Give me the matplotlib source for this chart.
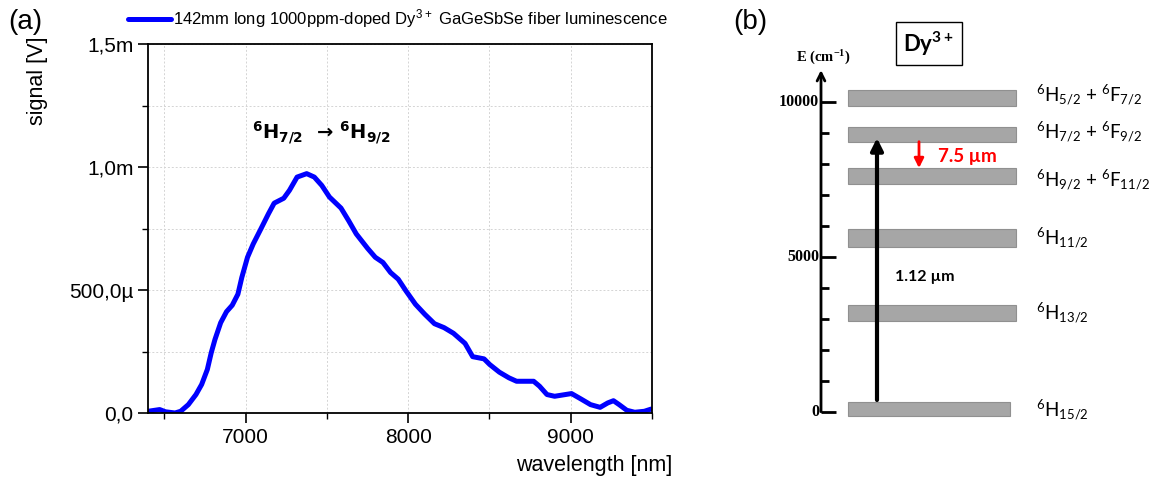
import numpy as np
import matplotlib.pyplot as plt
from matplotlib.ticker import MultipleLocator

plt.rcParams['font.family'] = ['Liberation Sans', 'DejaVu Sans']
plt.rcParams['mathtext.default'] = 'regular'

# (a) luminescence spectrum
wavelength = [6401, 6472, 6507, 6566, 6601, 6648, 6695, 6730, 6765, 6789, 6812,
              6847, 6883, 6918, 6953, 6977, 7012, 7047, 7094, 7141, 7176, 7235,
              7270, 7317, 7376, 7423, 7469, 7516, 7587, 7634, 7681, 7751, 7798,
              7845, 7892, 7939, 7986, 8045, 8103, 8162, 8221, 8279, 8350, 8397,
              8467, 8502, 8561, 8620, 8667, 8772, 8808, 8854, 8901, 9005, 9063,
              9122, 9181, 9228, 9263, 9298, 9345, 9394, 9453, 9495]
signal_mV = [0.007, 0.014, 0.005, 0.000, 0.007, 0.034, 0.075, 0.116, 0.177, 0.245, 0.299,
             0.367, 0.412, 0.438, 0.483, 0.551, 0.633, 0.687, 0.748, 0.810, 0.853, 0.873,
             0.905, 0.959, 0.973, 0.959, 0.925, 0.878, 0.833, 0.782, 0.728, 0.669, 0.633,
             0.612, 0.571, 0.544, 0.497, 0.442, 0.401, 0.363, 0.347, 0.324, 0.283, 0.229,
             0.220, 0.197, 0.166, 0.143, 0.129, 0.129, 0.109, 0.075, 0.068, 0.079, 0.057,
             0.034, 0.023, 0.041, 0.050, 0.034, 0.011, 0.003, 0.007, 0.016]
ytick_vals = [0, 0.5e-3, 1.0e-3, 1.5e-3]
ytick_labels = ['0,0', '500,0\u00b5', '1,0m', '1,5m']
xtick_vals = [7000, 8000, 9000]

# (b) Dy3+ energy levels (cm-1), lower and upper edge of each band
level_lo = [9870, 8710, 7345, 5313, 2935, -140]
level_hi = [10380, 9194, 7861, 5894, 3442, 323]
level_names = ['$^6$H$_{5/2}$ + $^6$F$_{7/2}$', '$^6$H$_{7/2}$ + $^6$F$_{9/2}$',
               '$^6$H$_{9/2}$ + $^6$F$_{11/2}$', '$^6$H$_{11/2}$',
               '$^6$H$_{13/2}$', '$^6$H$_{15/2}$']
label_e = [10216, 9032, 7474, 5603, 3184, 55]
pump_lo, pump_hi = 377, 8829
emis_hi, emis_lo = 8710, 7860

fig = plt.figure(figsize=(11.5, 4.82), dpi=100)

# ---- panel (a)
ax = fig.add_axes([148/1150, 69/482, 504/1150, 369/482])
ax.plot(wavelength, np.array(signal_mV)*1e-3, color='#0000ff', lw=3.6,
        solid_joinstyle='round', solid_capstyle='round',
        label='142mm long 1000ppm-doped Dy$^{3+}$ GaGeSbSe fiber luminescence')
ax.set_xlim(6400, 9500)
ax.set_ylim(0, 1.5e-3)
ax.set_xticks(xtick_vals)
ax.xaxis.set_minor_locator(MultipleLocator(500))
ax.set_yticks(ytick_vals)
ax.set_yticklabels(ytick_labels)
ax.yaxis.set_minor_locator(MultipleLocator(0.25e-3))
ax.tick_params(which='major', direction='out', length=7, width=1.2, labelsize=15, pad=3.5)
ax.tick_params(which='minor', direction='out', length=4, width=1.0)
for s in ax.spines.values():
    s.set_linewidth(1.3)
ax.grid(True, which='both', color='#d4d4d4', lw=0.7, ls=(0, (2, 2)))
ax.set_axisbelow(True)
ax.text(7037, 1.138e-3, '$^6$H$_{7/2}$  \u2192 $^6$H$_{9/2}$', fontsize=14,
        fontweight='bold', family=['DejaVu Sans'], ha='left', va='center')
fig.text(672/1150, 1-466/482, 'wavelength [nm]', fontsize=15.5, ha='right', va='center')
fig.text(38/1150, 1-81/482, 'signal [V]', fontsize=15.5, rotation=90, ha='center', va='center')
fig.legend(loc='center left', bbox_to_anchor=(128/1150, 1-19/482), frameon=False,
           fontsize=12, handlelength=2.6, handletextpad=0.1, borderpad=0, borderaxespad=0)
fig.text(8/1150, 1-22/482, '(a)', fontsize=20, va='center')
fig.text(733/1150, 1-22/482, '(b)', fontsize=20, va='center')

# ---- panel (b)
ax2 = fig.add_axes([700/1150, 0, 450/1150, 1])
ax2.set_xlim(700, 1150)
ax2.set_ylim(-2268, 13281)
ax2.axis('off')
axis_x = 821
ax2.annotate('', xy=(axis_x, 11020), xytext=(axis_x, 0),
             arrowprops=dict(arrowstyle='->', lw=2, color='black', mutation_scale=14,
                             shrinkA=0, shrinkB=0))
for e in range(0, 10001, 1000):
    major = e % 5000 == 0
    ax2.plot([axis_x, axis_x + (15 if major else 8)], [e, e], color='black', lw=2,
             solid_capstyle='butt')
    if major:
        ax2.text(axis_x - 2, e, str(e), family='Liberation Serif', fontweight='bold',
                 fontsize=11.5, ha='right', va='center')
ax2.text(823, 11410, 'E (cm$^{-1}$)', family='Liberation Serif', fontweight='bold',
         fontsize=10.5, ha='center', va='center')

widths = [168, 168, 168, 168, 168, 162]
ax2.bar([848 + w/2 for w in widths], np.array(level_hi) - np.array(level_lo),
        bottom=level_lo, width=widths, color='#a6a6a6', edgecolor='#909090', lw=0.8)
for name, e in zip(level_names, label_e):
    ax2.text(1036, e, name, family='Lato', fontsize=13.5, ha='left', va='center')

ax2.annotate('', xy=(877, pump_hi), xytext=(877, pump_lo),
             arrowprops=dict(arrowstyle='-|>', lw=3, color='black', mutation_scale=18,
                             shrinkA=0, shrinkB=0), zorder=5)
ax2.annotate('', xy=(919, emis_lo), xytext=(919, emis_hi),
             arrowprops=dict(arrowstyle='-|>', lw=2, color='#ff0000', mutation_scale=14,
                             shrinkA=0, shrinkB=0), zorder=5)
ax2.text(938, 8226, '7.5 \u00b5m', family='Lato', fontweight='bold', fontsize=13.5,
         color='#ff0000', ha='left', va='center')
ax2.text(895, 4355, '1.12 \u00b5m', family='Lato', fontweight='bold', fontsize=11.5,
         ha='left', va='center')
ax2.text(929, 11877, 'Dy$^{3+}$', family='Lato', fontweight='bold', fontsize=16,
         ha='center', va='center',
         bbox=dict(boxstyle='square,pad=0.35', fc='white', ec='black', lw=1))

fig.savefig('out.png', dpi=100)
